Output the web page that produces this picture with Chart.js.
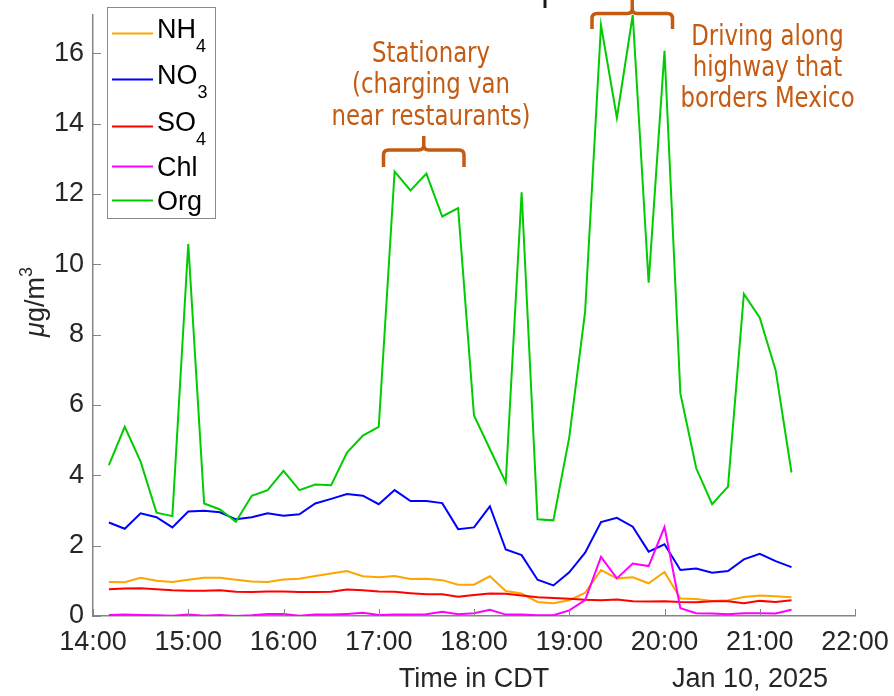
<!DOCTYPE html>
<html>
<head>
<meta charset="utf-8">
<script src="https://cdn.jsdelivr.net/npm/chart.js@4.4.1/dist/chart.umd.min.js"></script>
<style>
  html, body { margin: 0; padding: 0; background: #fff; }
  canvas { display: block; }
</style>
</head>
<body>
<canvas id="aerosolChart" width="894" height="696"></canvas>
<script>
// 10-minute averages, CDT
const times = [
  '14:10', '14:20', '14:30', '14:40', '14:50', '15:00', '15:10', '15:20', '15:30', '15:40', '15:50',
  '16:00', '16:10', '16:20', '16:30', '16:40', '16:50', '17:00', '17:10', '17:20', '17:30', '17:40',
  '17:50', '18:00', '18:10', '18:20', '18:30', '18:40', '18:50', '19:00', '19:10', '19:20', '19:30',
  '19:40', '19:50', '20:00', '20:10', '20:20', '20:30', '20:40', '20:50', '21:00', '21:10', '21:20'
];

const nh4 = [0.97, 0.96, 1.09, 1.00, 0.97, 1.03, 1.09, 1.09, 1.03, 0.98, 0.97, 1.04, 1.06, 1.14, 1.21,
  1.28, 1.13, 1.10, 1.14, 1.05, 1.06, 1.02, 0.89, 0.89, 1.13, 0.71, 0.64, 0.40, 0.36, 0.45, 0.66,
  1.31, 1.07, 1.10, 0.93, 1.25, 0.50, 0.48, 0.43, 0.45, 0.54, 0.58, 0.56, 0.53];
const no3 = [2.66, 2.48, 2.92, 2.81, 2.52, 2.97, 2.99, 2.95, 2.75, 2.81, 2.92, 2.85, 2.89, 3.20, 3.33,
  3.47, 3.42, 3.18, 3.58, 3.27, 3.27, 3.21, 2.47, 2.52, 3.12, 1.89, 1.73, 1.03, 0.87, 1.24, 1.80,
  2.67, 2.79, 2.54, 1.83, 2.04, 1.31, 1.35, 1.23, 1.28, 1.61, 1.77, 1.56, 1.39];
const so4 = [0.76, 0.78, 0.79, 0.76, 0.73, 0.72, 0.72, 0.73, 0.69, 0.68, 0.70, 0.70, 0.68, 0.68, 0.69,
  0.75, 0.73, 0.70, 0.69, 0.65, 0.62, 0.62, 0.55, 0.60, 0.64, 0.63, 0.58, 0.53, 0.51, 0.49, 0.46,
  0.45, 0.47, 0.42, 0.41, 0.42, 0.40, 0.39, 0.42, 0.42, 0.36, 0.43, 0.40, 0.45];
const chl = [0.03, 0.04, 0.03, 0.02, 0.01, 0.04, 0.01, 0.03, 0.00, 0.02, 0.06, 0.06, 0.01, 0.04, 0.04,
  0.06, 0.09, 0.03, 0.04, 0.04, 0.05, 0.12, 0.05, 0.08, 0.18, 0.04, 0.04, 0.02, 0.02, 0.16, 0.45,
  1.68, 1.07, 1.49, 1.42, 2.53, 0.22, 0.08, 0.07, 0.05, 0.08, 0.08, 0.07, 0.18];
const org = [4.29, 5.38, 4.39, 2.94, 2.84, 10.58, 3.20, 3.03, 2.68, 3.42, 3.58, 4.13, 3.58, 3.74, 3.72,
  4.65, 5.13, 5.38, 12.64, 12.10, 12.58, 11.36, 11.60, 5.70, 4.75, 3.80, 12.05, 2.75, 2.72, 5.08, 8.66,
  16.80, 14.17, 17.09, 9.48, 16.07, 6.33, 4.20, 3.18, 3.68, 9.16, 8.48, 6.99, 4.08];

const hourLabels = ['14:00', '15:00', '16:00', '17:00', '18:00', '19:00', '20:00', '21:00', '22:00'];
const species = ['NH4', 'NO3', 'SO4', 'Chl', 'Org'];

const axisGray = '#858585';
const textDark = '#262626';
const noteColor = '#C55A11';
const sansFont = "'Liberation Sans', Arial, Helvetica, sans-serif";

function toHours(t) {
  const [h, m] = t.split(':').map(Number);
  return h + m / 60;
}

function series(values) {
  return times.map((t, i) => ({ x: toHours(t), y: values[i] }));
}

const seriesValues = [nh4, no3, so4, chl, org];
const seriesColors = ['#FFA500', '#0000FF', '#FF0000', '#FF00FF', '#00CC00'];

const datasets = species.map((name, i) => ({
  label: name,
  data: series(seriesValues[i]),
  borderColor: seriesColors[i],
  borderWidth: 2,
  pointRadius: 0,
  tension: 0,
  fill: false,
  order: species.length - i
}));

// brace with a tip pointing up
function drawBrace(ctx, xL, xR, yBar, yFoot, yTip) {
  const xM = (xL + xR) / 2, r = 5;
  ctx.beginPath();
  ctx.moveTo(xL, yFoot);
  ctx.lineTo(xL, yBar + r);
  ctx.quadraticCurveTo(xL, yBar, xL + r, yBar);
  ctx.lineTo(xM - r, yBar);
  ctx.quadraticCurveTo(xM, yBar, xM, yBar - r);
  ctx.lineTo(xM, yTip);
  ctx.moveTo(xM, yBar - r);
  ctx.quadraticCurveTo(xM, yBar, xM + r, yBar);
  ctx.lineTo(xR - r, yBar);
  ctx.quadraticCurveTo(xR, yBar, xR, yBar + r);
  ctx.lineTo(xR, yFoot);
  ctx.stroke();
}

function noteLines(ctx, lines, cx, baseY, step) {
  ctx.save();
  ctx.font = "27.5px 'DejaVu Sans', Verdana, sans-serif";
  ctx.fillStyle = noteColor;
  ctx.textAlign = 'center';
  ctx.textBaseline = 'alphabetic';
  lines.forEach((txt, i) => {
    ctx.save();
    ctx.translate(cx, baseY + i * step);
    ctx.scale(0.83, 1);
    ctx.fillText(txt, 0, 0);
    ctx.restore();
  });
  ctx.restore();
}

const decorations = {
  id: 'decorations',
  afterDraw(chart) {
    const ctx = chart.ctx;
    const xs = chart.scales.x, ys = chart.scales.y;
    const area = chart.chartArea;

    // inward tick marks
    ctx.save();
    ctx.strokeStyle = axisGray;
    ctx.lineWidth = 1;
    ctx.beginPath();
    xs.ticks.forEach(t => {
      const px = Math.round(xs.getPixelForValue(t.value)) + 0.5;
      ctx.moveTo(px, area.bottom);
      ctx.lineTo(px, area.bottom - 7);
    });
    ys.ticks.forEach(t => {
      const py = Math.round(ys.getPixelForValue(t.value)) + 0.5;
      ctx.moveTo(area.left, py);
      ctx.lineTo(area.left + 8, py);
    });
    ctx.stroke();
    ctx.restore();

    // axis titles
    ctx.save();
    ctx.fillStyle = textDark;
    ctx.textBaseline = 'alphabetic';
    ctx.font = '27px ' + sansFont;
    ctx.textAlign = 'center';
    ctx.fillText('Time in CDT', (area.left + area.right) / 2, 687);
    ctx.fillText('Jan 10, 2025', 750, 687);

    ctx.translate(44, 302);
    ctx.rotate(-Math.PI / 2);
    ctx.textAlign = 'left';
    ctx.font = 'italic 27px ' + sansFont;
    const wMu = ctx.measureText('\u03bc').width;
    ctx.font = '27px ' + sansFont;
    const wGm = ctx.measureText('g/m').width;
    ctx.font = '18px ' + sansFont;
    const wSup = ctx.measureText('3').width;
    let x0 = -(wMu + wGm + wSup) / 2;
    ctx.font = 'italic 27px ' + sansFont;
    ctx.fillText('\u03bc', x0, 0);
    x0 += wMu;
    ctx.font = '27px ' + sansFont;
    ctx.fillText('g/m', x0, 0);
    x0 += wGm;
    ctx.font = '18px ' + sansFont;
    ctx.fillText('3', x0, -12);
    ctx.restore();

    // legend with subscripts
    ctx.save();
    ctx.fillStyle = '#fff';
    ctx.fillRect(107.5, 7.5, 108, 211);
    ctx.strokeStyle = '#8a8a8a';
    ctx.lineWidth = 1;
    ctx.strokeRect(107.5, 7.5, 108, 211);
    const baselines = [38, 84, 130.5, 176, 210];
    chart.data.datasets.forEach((ds, i) => {
      const m = ds.label.match(/^(\D+)(\d*)$/);
      const main = m[1], sub = m[2];
      const base = baselines[i];
      const ly = Math.round(base - (sub ? 5 : 10.3)) + 0.5;
      ctx.strokeStyle = ds.borderColor;
      ctx.lineWidth = 2;
      ctx.beginPath();
      ctx.moveTo(112, ly);
      ctx.lineTo(153, ly);
      ctx.stroke();
      ctx.fillStyle = '#000';
      ctx.textAlign = 'left';
      ctx.textBaseline = 'alphabetic';
      ctx.font = '27px ' + sansFont;
      ctx.fillText(main, 157, base);
      if (sub) {
        const w = ctx.measureText(main).width;
        ctx.font = '18px ' + sansFont;
        ctx.fillText(sub, 157 + w, base + 14);
      }
    });
    ctx.restore();

    // annotations
    ctx.save();
    ctx.strokeStyle = noteColor;
    ctx.lineWidth = 3.5;
    ctx.lineJoin = 'round';
    drawBrace(ctx, 383.5, 464, 150, 167, 136);
    drawBrace(ctx, 592, 672.5, 13.5, 29, -2);
    ctx.strokeStyle = '#1a1a1a';
    ctx.lineWidth = 3;
    ctx.beginPath();
    ctx.moveTo(545, 0);
    ctx.lineTo(545, 8);
    ctx.stroke();
    ctx.restore();

    noteLines(ctx, ['Stationary', '(charging van', 'near restaurants)'], 431, 61.7, 31.7);
    noteLines(ctx, ['Driving along', 'highway that', 'borders Mexico'], 767.5, 45, 31);
  }
};

const tickFont = { family: sansFont, size: 27 };

new Chart(document.getElementById('aerosolChart').getContext('2d'), {
  type: 'line',
  data: { datasets: datasets },
  options: {
    responsive: false,
    animation: false,
    devicePixelRatio: 1,
    layout: { padding: { top: 15, right: 39, left: 0, bottom: 0 } },
    plugins: {
      legend: { display: false },
      tooltip: { enabled: false }
    },
    scales: {
      x: {
        type: 'linear',
        min: 14,
        max: 22,
        afterFit: scale => {
          scale.height = 80;
          scale.paddingLeft = 0;
          scale.paddingRight = 0;
        },
        grid: { display: false, drawTicks: false },
        border: { display: true, color: axisGray, width: 1.5 },
        ticks: {
          stepSize: 1,
          autoSkip: false,
          maxRotation: 0,
          padding: 10,
          color: textDark,
          font: tickFont,
          callback: v => hourLabels[Math.round(v - 14)]
        }
      },
      y: {
        min: 0,
        max: 17.09,
        afterFit: scale => {
          scale.width = 93;
          scale.paddingTop = 0;
          scale.paddingBottom = 0;
        },
        grid: { display: false, drawTicks: false },
        border: { display: true, color: axisGray, width: 1.5 },
        ticks: {
          stepSize: 2,
          includeBounds: false,
          padding: 9,
          color: textDark,
          font: tickFont
        }
      }
    }
  },
  plugins: [decorations]
});
</script>
</body>
</html>
